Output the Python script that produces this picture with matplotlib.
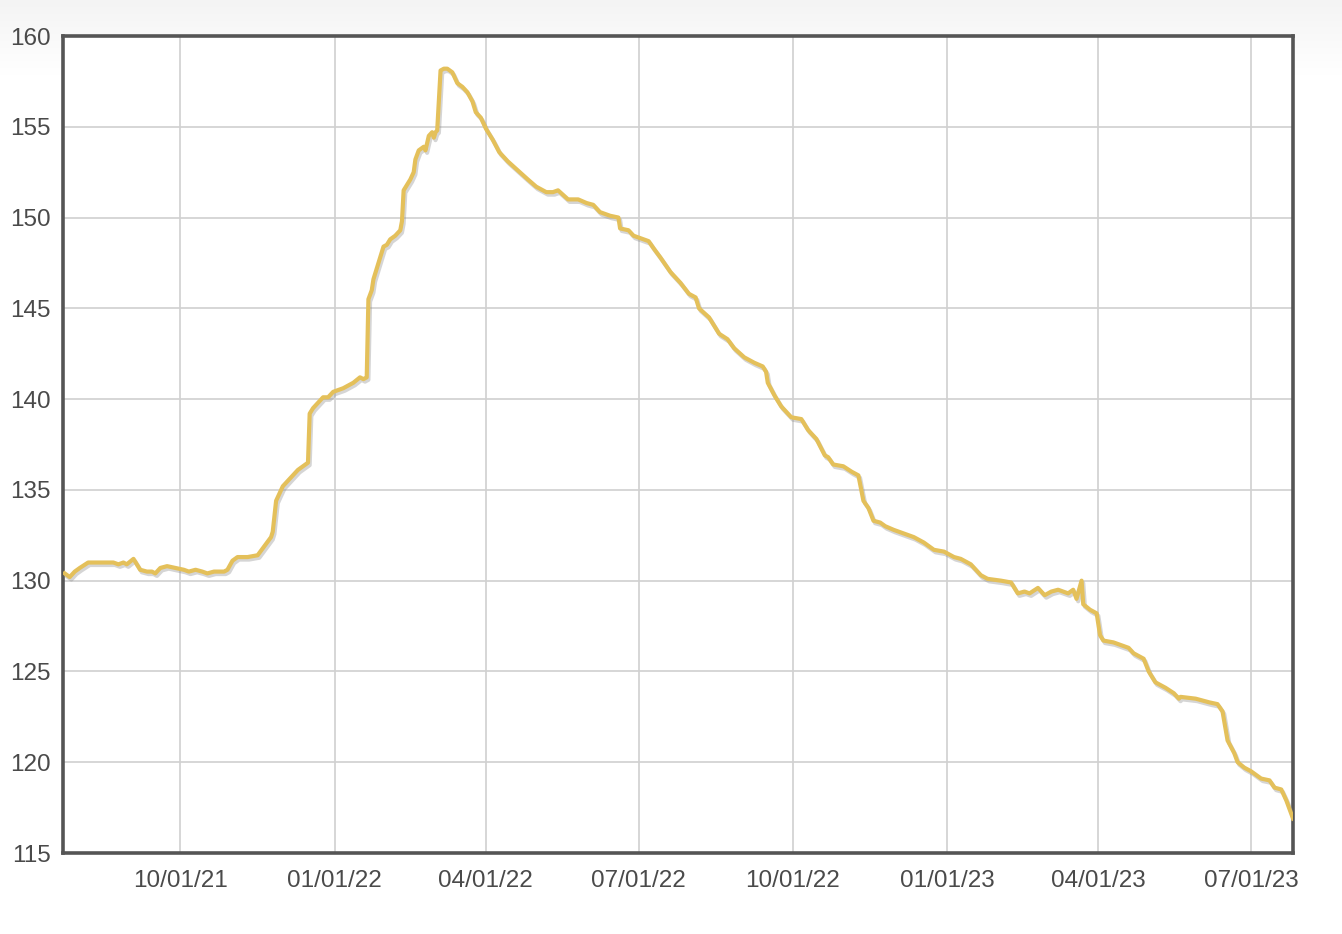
import matplotlib
matplotlib.use("Agg")
import matplotlib.pyplot as plt
import matplotlib.dates as mdates
import matplotlib.patheffects as pe
import numpy as np
import pandas as pd

# days counted from 2021-10-01
base_date = pd.Timestamp("2021-10-01")
day_offsets = [
    -69, -66, -63, -60, -55, -50, -44, -40, -37, -34, -32, -28, -24, -20, -17, -15,
    -12, -8, -3, 2, 5, 9, 13, 16, 20, 26, 28, 31, 34, 40, 46, 50, 54, 55, 57, 61,
    70, 76, 77, 79, 85, 88, 91, 97, 103, 107, 109, 111, 112, 114, 115, 117, 119,
    121, 123, 125, 128, 131, 132, 133, 137, 139, 140, 142, 145, 146, 148, 150, 151,
    152, 153, 155, 157, 159, 162, 165, 168, 171, 174, 176, 179, 182, 186, 190, 195,
    201, 207, 212, 218, 222, 225, 231, 237, 242, 246, 250, 256, 261, 262, 267, 270,
    273, 279, 282, 286, 292, 298, 303, 307, 309, 315, 321, 326, 330, 336, 342, 347,
    349, 350, 354, 358, 364, 370, 374, 379, 384, 386, 389, 395, 400, 404, 407, 410,
    413, 417, 420, 425, 431, 437, 443, 449, 455, 461, 465, 471, 477, 481, 489, 495,
    499, 503, 506, 511, 515, 519, 523, 529, 532, 534, 537, 538, 542, 546, 548, 550,
    556, 565, 568, 574, 577, 581, 587, 592, 595, 596, 605, 613, 618, 621, 624, 628,
    630, 634, 638, 644, 649, 652, 656, 659, 661, 663,
]
values = [
    130.4, 130.2, 130.5, 130.7, 131.0, 131.0, 131.0, 131.0, 130.9, 131.0, 130.9, 131.2,
    130.6, 130.5, 130.5, 130.4, 130.7, 130.8, 130.7, 130.6, 130.5, 130.6, 130.5, 130.4,
    130.5, 130.5, 130.6, 131.1, 131.3, 131.3, 131.4, 131.9, 132.4, 132.7, 134.4, 135.2,
    136.1, 136.5, 139.2, 139.5, 140.1, 140.1, 140.4, 140.6, 140.9, 141.2, 141.1, 141.2,
    145.5, 146.0, 146.6, 147.2, 147.8, 148.4, 148.5, 148.8, 149.0, 149.3, 149.8, 151.5,
    152.1, 152.5, 153.2, 153.7, 153.9, 153.7, 154.5, 154.7, 154.4, 154.7, 154.8, 158.1,
    158.2, 158.2, 158.0, 157.4, 157.2, 156.9, 156.4, 155.8, 155.5, 154.9, 154.3, 153.6,
    153.1, 152.6, 152.1, 151.7, 151.4, 151.4, 151.5, 151.0, 151.0, 150.8, 150.7, 150.3,
    150.1, 150.0, 149.4, 149.3, 149.0, 148.9, 148.7, 148.3, 147.8, 147.0, 146.4, 145.8,
    145.6, 145.0, 144.5, 143.6, 143.3, 142.8, 142.3, 142.0, 141.8, 141.5, 140.9, 140.2,
    139.6, 139.0, 138.9, 138.3, 137.8, 136.9, 136.8, 136.4, 136.3, 136.0, 135.8, 134.4,
    134.0, 133.3, 133.2, 133.0, 132.8, 132.6, 132.4, 132.1, 131.7, 131.6, 131.3, 131.2,
    130.9, 130.3, 130.1, 130.0, 129.9, 129.3, 129.4, 129.3, 129.6, 129.2, 129.4, 129.5,
    129.3, 129.5, 129.0, 130.0, 128.7, 128.4, 128.2, 127.0, 126.7, 126.6, 126.3, 126.0,
    125.7, 125.0, 124.4, 124.1, 123.8, 123.5, 123.6, 123.5, 123.3, 123.2, 122.8, 121.2,
    120.5, 120.0, 119.7, 119.5, 119.1, 119.0, 118.6, 118.5, 117.9, 117.4, 116.9,
]
y_ticks = [115, 120, 125, 130, 135, 140, 145, 150, 155, 160]
x_ticks = ["2021-10-01", "2022-01-01", "2022-04-01", "2022-07-01",
           "2022-10-01", "2023-01-01", "2023-04-01", "2023-07-01"]

dates = base_date + pd.to_timedelta(day_offsets, unit="D")

plt.rcParams['font.family'] = ['Liberation Sans', 'DejaVu Sans']

fig = plt.figure(figsize=(13.42, 9.34), dpi=100)
fig.patch.set_facecolor("white")

# faint grey band at the top of the picture
bg = fig.add_axes([0, 0.92, 1, 0.08], zorder=-5)
grad = np.linspace(0, 1, 100).reshape(-1, 1)
bg.imshow(grad, aspect="auto", cmap=matplotlib.colors.LinearSegmentedColormap.from_list(
    "bg", ["#ffffff", "#f4f4f4"]), extent=[0, 1, 0, 1], origin="lower")
bg.axis("off")

ax = fig.add_axes([63 / 1342, 1 - 853 / 934, 1230 / 1342, 817 / 934])
ax.set_facecolor("white")

ax.plot(dates, values, color="#E4C05A", lw=3.0, solid_joinstyle="round",
        path_effects=[pe.SimpleLineShadow(offset=(1.2, -1.8), shadow_color="#888888", alpha=0.35),
                      pe.Normal()], zorder=3)

ax.set_ylim(115, 160)
ax.set_yticks(y_ticks)
ax.set_xlim(pd.Timestamp("2021-07-23"), pd.Timestamp("2023-07-26"))
ax.set_xticks(pd.to_datetime(x_ticks))
ax.xaxis.set_major_formatter(mdates.DateFormatter("%m/%d/%y"))

ax.grid(True, color="#d0d0d0", lw=1.2)
ax.set_axisbelow(True)
ax.tick_params(length=0, labelsize=17.5, colors="#4a4a4a")
ax.tick_params(axis="y", pad=9)
ax.tick_params(axis="x", pad=12)
for spine in ax.spines.values():
    spine.set_color("#555555")
    spine.set_linewidth(2.6)

fig.savefig("out.png", dpi=100)
